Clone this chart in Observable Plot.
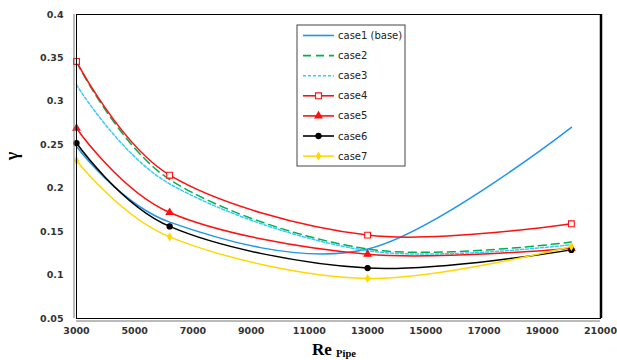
<!DOCTYPE html>
<html>
<head>
<meta charset="utf-8">
<script src="https://cdn.jsdelivr.net/npm/d3@7"></script>
<script src="https://cdn.jsdelivr.net/npm/@observablehq/plot@0.6"></script>
<style>
  html, body { margin: 0; padding: 0; background: #fff; }
  #chart { width: 617px; height: 360px; }
</style>
</head>
<body>
<div id="chart"></div>
<script>
const re = [3000, 6200, 13000, 20000];
const case1 = [0.248, 0.161, 0.130, 0.270];
const case2 = [0.345, 0.210, 0.130, 0.138];
const case3 = [0.319, 0.205, 0.128, 0.135];
const case4 = [0.346, 0.215, 0.146, 0.159];
const case5 = [0.269, 0.172, 0.124, 0.131];
const case6 = [0.252, 0.156, 0.108, 0.129];
const case7 = [0.232, 0.144, 0.096, 0.133];

const seriesNames = ["case1 (base)", "case2", "case3", "case4", "case5", "case6", "case7"];
const seriesValues = [case1, case2, case3, case4, case5, case6, case7];
const xTicks = [3000, 5000, 7000, 9000, 11000, 13000, 15000, 17000, 19000, 21000];
const yTicks = [0.05, 0.1, 0.15, 0.2, 0.25, 0.3, 0.35, 0.4];

const styles = [
  {stroke: "#2196e8", dash: null, symbol: null},
  {stroke: "#00b050", dash: "8,5", symbol: null},
  {stroke: "#33ccff", dash: "3,2", symbol: null},
  {stroke: "#ff1010", dash: null, symbol: "square", fill: "#fff", r: 3.3},
  {stroke: "#ff1010", dash: null, symbol: "triangle", fill: "#ff1010", r: 2.6},
  {stroke: "#000000", dash: null, symbol: "circle", fill: "#000", r: 2.6},
  {stroke: "#ffd800", dash: null, symbol: "diamond", fill: "#ffd800", r: 2.1}
];

const rows = [];
seriesNames.forEach((name, i) => {
  re.forEach((x, j) => rows.push({series: name, idx: i, x, y: seriesValues[i][j]}));
});

const lineMarks = styles.map((s, i) => Plot.line(rows.filter(d => d.idx === i), {
  x: "x", y: "y", stroke: s.stroke, strokeWidth: 1.5,
  strokeDasharray: s.dash, curve: "cardinal", tension: 0
}));
const dotMarks = styles.map((s, i) => s.symbol ? Plot.dot(rows.filter(d => d.idx === i), {
  x: "x", y: "y", symbol: s.symbol, r: s.r, fill: s.fill, stroke: s.stroke, strokeWidth: 1.1
}) : null).filter(Boolean);

const fmt = d => String(+d.toFixed(2));

const chart = Plot.plot({
  width: 617, height: 360,
  marginLeft: 76, marginRight: 17, marginTop: 14, marginBottom: 42,
  x: {domain: [3000, 21000], label: null},
  y: {domain: [0.05, 0.4], label: null},
  style: {fontFamily: "DejaVu Sans", fontWeight: "bold", fontSize: "9.5px", color: "#333", background: "#fff"},
  marks: [
    Plot.axisX({ticks: xTicks, tickFormat: d => String(d), tickSize: 0, tickPadding: 9, fill: "#333", fontWeight: "bold", label: null}),
    Plot.axisY({ticks: yTicks, tickFormat: fmt, tickSize: 0, tickPadding: 13, fill: "#333", fontWeight: "bold", label: null}),
    ...lineMarks,
    ...dotMarks,
    Plot.frame({stroke: "#000", strokeWidth: 1}),
    Plot.ruleX([3000], {stroke: "#777", strokeWidth: 1, dx: -2.5}),
    Plot.ruleY([0.05], {stroke: "#777", strokeWidth: 1, dy: 2.5}),
    Plot.ruleX([21000], {stroke: "#000", strokeWidth: 2.5, dx: 0.5})
  ]
});

document.getElementById("chart").appendChild(chart);

const svg = d3.select(chart);

// y title (gamma), rotated
svg.append("text")
  .attr("transform", "translate(18,156) rotate(-90)")
  .attr("text-anchor", "middle")
  .attr("font-family", "Liberation Serif")
  .attr("font-weight", "bold")
  .attr("font-size", 18)
  .attr("fill", "#000")
  .text("γ");

// x title with subscript
const xt = svg.append("text")
  .attr("x", 334).attr("y", 355)
  .attr("text-anchor", "middle")
  .attr("font-family", "Liberation Serif")
  .attr("font-weight", "bold")
  .attr("fill", "#000");
xt.append("tspan").attr("font-size", 17).text("Re ");
xt.append("tspan").attr("font-size", 10.5).attr("dy", 2).text("Pipe");

// legend
const lg = svg.append("g").attr("transform", "translate(297,25)");
lg.append("rect").attr("width", 108).attr("height", 141)
  .attr("fill", "#fff").attr("stroke", "#444").attr("stroke-width", 1);
const symMap = {square: d3.symbolSquare, triangle: d3.symbolTriangle, circle: d3.symbolCircle, diamond: d3.symbolDiamond};
seriesNames.forEach((name, i) => {
  const s = styles[i];
  const g = lg.append("g").attr("transform", `translate(0,${10.5 + i * 20.1})`);
  g.append("line").attr("x1", 6).attr("x2", 37).attr("y1", 0).attr("y2", 0)
    .attr("stroke", s.stroke).attr("stroke-width", 1.6)
    .attr("stroke-dasharray", s.dash);
  if (s.symbol) {
    g.append("path").attr("transform", "translate(21.5,0)")
      .attr("d", d3.symbol(symMap[s.symbol], Math.PI * s.r * s.r)())
      .attr("fill", s.fill).attr("stroke", s.stroke).attr("stroke-width", 1.1);
  }
  g.append("text").attr("x", 41).attr("dy", "0.35em")
    .attr("text-anchor", "start")
    .attr("font-family", "DejaVu Sans").attr("font-weight", "normal")
    .attr("font-size", 10).attr("fill", "#222").text(name);
});
</script>
</body>
</html>
